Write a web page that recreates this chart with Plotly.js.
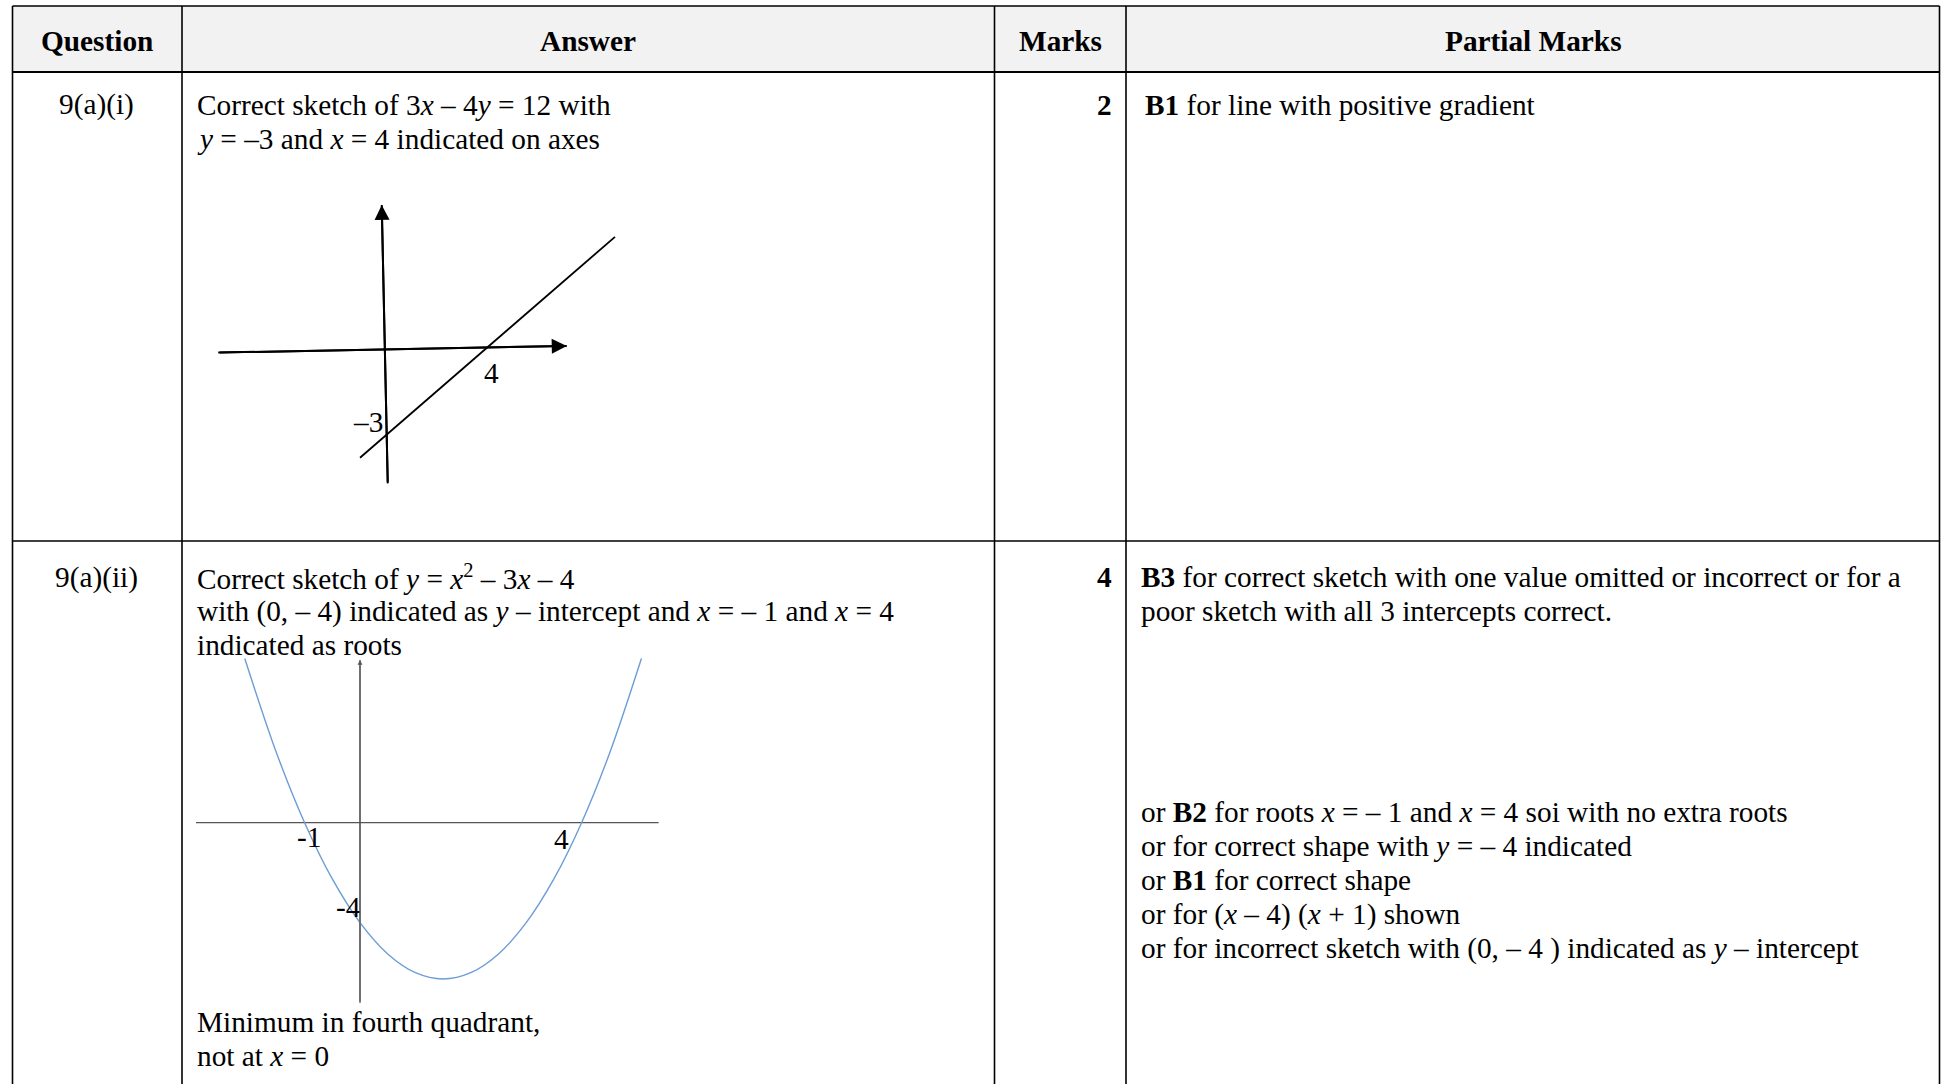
<!DOCTYPE html>
<html>
<head>
<meta charset="utf-8">
<script src="https://cdn.plot.ly/plotly-3.0.1.min.js"></script>
<style>
  html, body { margin: 0; padding: 0; background: #fff; }
  #plotArea { width: 1942px; height: 1084px; }
</style>
</head>
<body>
<div id="plotArea"></div>
<script>
// table text
var headers = ['Question', 'Answer', 'Marks', 'Partial Marks'];
var questions = ['9(a)(i)', '9(a)(ii)'];
var marks = ['2', '4'];
var answer1 = ['Correct sketch of 3<i>x</i> – 4<i>y</i> = 12 with',
               '<i>y</i> = –3 and <i>x</i> = 4 indicated on axes'];
var answer2 = ['Correct sketch of <i>y</i> = <i>x</i><sup>2</sup> – 3<i>x</i> – 4',
               'with (0, – 4) indicated as <i>y</i> – intercept and <i>x</i> = – 1 and <i>x</i> = 4',
               'indicated as roots'];
var answer2Note = ['Minimum in fourth quadrant,', 'not at <i>x</i> = 0'];
var partial1 = ['<b>B1</b> for line with positive gradient'];
var partial2a = ['<b>B3</b> for correct sketch with one value omitted or incorrect or for a',
                 'poor sketch with all 3 intercepts correct.'];
var partial2b = ['or <b>B2</b> for roots <i>x</i> = – 1 and <i>x</i> = 4 soi with no extra roots',
                 'or for correct shape with <i>y</i> = – 4 indicated',
                 'or <b>B1</b> for correct shape',
                 'or for (<i>x</i> – 4) (<i>x</i> + 1) shown',
                 'or for incorrect sketch with (0, – 4 ) indicated as <i>y</i> – intercept'];

// sketch 1: 3x - 4y = 12
var lineX = [-1.0, 9.2];
var lineY = [-3.78, 3.97];
var s1AxisXx = [-6.67, 7.27];
var s1AxisXy = [-0.09, 0.14];
var s1AxisYx = [0.11, -0.13];
var s1AxisYy = [-4.68, 5.09];
var s1Labels = ['4', '–3'];
var s1LabelX = [4.24, -0.68];
var s1LabelY = [-0.82, -2.52];

// sketch 2: y = x^2 - 3x - 4
var curveX = [-2.08, -1.5, -1, -0.5, 0, 0.5, 1, 1.5, 2, 2.5, 3, 3.5, 4, 4.5, 5.08];
var curveY = [6.57, 2.75, 0, -2.25, -4, -5.25, -6, -6.25, -6, -5.25, -4, -2.25, 0, 2.75, 6.57];
var s2AxisXx = [-2.96, 5.39];
var s2AxisXy = [0, 0];
var s2AxisYx = [0, 0];
var s2AxisYy = [-7.21, 6.51];
var s2Labels = ['-1', '4', '-4'];
var s2LabelX = [-0.915, 3.63, -0.21];
var s2LabelY = [-0.58, -0.66, -3.36];

var W = 1942, H = 1084;
function px(x) { return x / W; }
function py(y) { return 1 - y / H; }

var FONT = 'Liberation Serif, Times New Roman, serif';
var FS = 29.3;
var LH = 34;

// table grid
var colX = [12.5, 182, 994.5, 1126, 1939.5];
var rowY = [6, 72, 541, 1100];

var shapes = [];
shapes.push({ type: 'rect', xref: 'paper', yref: 'paper', layer: 'below',
  x0: px(colX[0]), x1: px(colX[4]), y0: py(rowY[0]), y1: py(rowY[1]),
  fillcolor: '#f2f2f2', line: { width: 0 } });
colX.forEach(function (x) {
  shapes.push({ type: 'line', xref: 'paper', yref: 'paper', x0: px(x), x1: px(x),
    y0: py(rowY[0]), y1: py(rowY[3]), line: { color: '#000', width: 1.6 } });
});
rowY.slice(0, 3).forEach(function (y, i) {
  shapes.push({ type: 'line', xref: 'paper', yref: 'paper', x0: px(colX[0]), x1: px(colX[4]),
    y0: py(y), y1: py(y), line: { color: '#000', width: i === 1 ? 2.2 : 1.6 } });
});

var annotations = [];
function txt(s, x, y, anchor, opts) {
  opts = opts || {};
  annotations.push({ text: s, xref: opts.xref || 'paper', yref: opts.yref || 'paper',
    x: opts.xref ? x : px(x), y: opts.yref ? y : py(y),
    xanchor: anchor, yanchor: 'middle', showarrow: false,
    font: { family: FONT, size: opts.size || FS, color: '#000' } });
}
function block(lines, x, y0) {
  lines.forEach(function (s, i) { txt(s, x, y0 + i * LH, 'left'); });
}

var headCenters = [96.5, 588, 1060, 1533];
headers.forEach(function (h, i) { txt('<b>' + h + '</b>', headCenters[i], 41, 'center'); });

var rowTop = [105, 577];
questions.forEach(function (q, i) { txt(q, 96.5, rowTop[i], 'center'); });
marks.forEach(function (m, i) { txt('<b>' + m + '</b>', 1114, rowTop[i], 'right'); });

block(answer1, 195, rowTop[0]);
block(answer2, 195, rowTop[1]);
block(answer2Note, 195, 1022);
block(partial1, 1143, rowTop[0]);
block(partial2a, 1139, rowTop[1]);
block(partial2b, 1139, 812);

s1Labels.forEach(function (s, i) {
  txt(s, s1LabelX[i], s1LabelY[i], 'center', { xref: 'x', yref: 'y' });
});
s2Labels.forEach(function (s, i) {
  txt(s, s2LabelX[i], s2LabelY[i], 'center', { xref: 'x2', yref: 'y2' });
});

// arrowheads on the sketch axes
function arrow(xs, ys, xr, yr, w, size, color) {
  var n = xs.length - 1;
  annotations.push({ text: '', xref: xr, yref: yr, axref: xr, ayref: yr,
    x: xs[n], y: ys[n], ax: xs[0], ay: ys[0], showarrow: true,
    arrowhead: 2, arrowsize: size, arrowwidth: w, arrowcolor: color, standoff: 0 });
}
arrow(s1AxisXx, s1AxisXy, 'x', 'y', 2, 1.5, '#000');
arrow(s1AxisYx, s1AxisYy, 'x', 'y', 2, 1.5, '#000');
arrow(s2AxisYx, s2AxisYy, 'x2', 'y2', 1.2, 0.8, '#555');

// sketch boxes (pixel) and origins, used to set axis domain and range
function sketchAxes(box, origin, unit) {
  return {
    x: { domain: [px(box[0]), px(box[2])],
         range: [(box[0] - origin[0]) / unit[0], (box[2] - origin[0]) / unit[0]],
         visible: false, fixedrange: true },
    y: { domain: [py(box[3]), py(box[1])],
         range: [(origin[1] - box[3]) / unit[1], (origin[1] - box[1]) / unit[1]],
         visible: false, fixedrange: true }
  };
}
var a1 = sketchAxes([200, 180, 640, 500], [385, 350], [25, 28.5]);
var a2 = sketchAxes([190, 650, 670, 1010], [360, 822.7], [55.4, 25]);
a1.x.anchor = 'y'; a1.y.anchor = 'x';
a2.x.anchor = 'y2'; a2.y.anchor = 'x2';

var data = [
  { x: s1AxisXx, y: s1AxisXy, xaxis: 'x', yaxis: 'y', mode: 'lines', line: { color: '#000', width: 2 } },
  { x: s1AxisYx, y: s1AxisYy, xaxis: 'x', yaxis: 'y', mode: 'lines', line: { color: '#000', width: 2 } },
  { x: lineX, y: lineY, xaxis: 'x', yaxis: 'y', mode: 'lines', line: { color: '#000', width: 1.8 } },
  { x: s2AxisXx, y: s2AxisXy, xaxis: 'x2', yaxis: 'y2', mode: 'lines', line: { color: '#555', width: 1.2 } },
  { x: s2AxisYx, y: s2AxisYy, xaxis: 'x2', yaxis: 'y2', mode: 'lines', line: { color: '#555', width: 1.2 } },
  { x: curveX, y: curveY, xaxis: 'x2', yaxis: 'y2', mode: 'lines',
    line: { color: '#6c9dd4', width: 1.4, shape: 'spline', smoothing: 1 } }
];

var layout = {
  width: W, height: H,
  margin: { l: 0, r: 0, t: 0, b: 0 },
  paper_bgcolor: '#fff', plot_bgcolor: 'rgba(0,0,0,0)',
  showlegend: false,
  xaxis: a1.x, yaxis: a1.y, xaxis2: a2.x, yaxis2: a2.y,
  shapes: shapes,
  annotations: annotations
};

Plotly.newPlot('plotArea', data, layout, { displayModeBar: false, staticPlot: true });
</script>
</body>
</html>
